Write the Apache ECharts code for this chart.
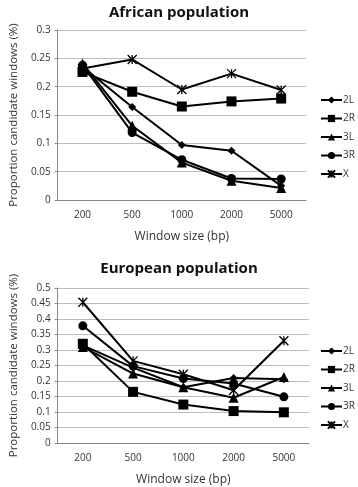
<!DOCTYPE html>
<html>
<head>
<meta charset="utf-8">
<script src="https://cdn.jsdelivr.net/npm/echarts@6/dist/echarts.min.js"></script>
<style>
  html, body { margin: 0; padding: 0; background: #fff; }
  #chart { width: 358px; height: 487px; }
</style>
</head>
<body>
<div id="chart"></div>
<script>
const windowSizes = ['200', '500', '1000', '2000', '5000'];
const seriesNames = ['2L', '2R', '3L', '3R', 'X'];

// African population
const africa2L = [0.235, 0.164, 0.097, 0.087, 0.025];
const africa2R = [0.226, 0.191, 0.165, 0.174, 0.179];
const africa3L = [0.241, 0.131, 0.066, 0.034, 0.021];
const africa3R = [0.238, 0.119, 0.071, 0.038, 0.037];
const africaX = [0.232, 0.248, 0.195, 0.223, 0.194];

// European population
const europe2L = [0.315, 0.243, 0.18, 0.21, 0.206];
const europe2R = [0.32, 0.165, 0.124, 0.103, 0.099];
const europe3L = [0.31, 0.224, 0.18, 0.146, 0.213];
const europe3R = [0.378, 0.248, 0.208, 0.192, 0.149];
const europeX = [0.454, 0.265, 0.222, 0.17, 0.33];

const FONT = '"Open Sans", "Liberation Sans", sans-serif';
const starPath = 'path://M0,0L10,10M10,0L0,10M5,0L5,10';

const markers = {
  '2L': { symbol: 'diamond', size: 8 },
  '2R': { symbol: 'rect', size: 10 },
  '3L': { symbol: 'triangle', size: 10 },
  '3R': { symbol: 'circle', size: 9 },
  'X': { symbol: starPath, size: 9 },
};

function makeSeries(name, data, idx) {
  const m = markers[name];
  const isStar = name === 'X';
  return {
    name,
    type: 'line',
    xAxisIndex: idx,
    yAxisIndex: idx,
    data,
    symbol: m.symbol,
    symbolSize: m.size,
    showAllSymbol: true,
    lineStyle: { color: '#000', width: 2 },
    itemStyle: isStar
      ? { color: 'rgba(0,0,0,0)', borderColor: '#000', borderWidth: 1.3 }
      : { color: '#000', borderColor: '#000', borderWidth: 0 },
    emphasis: { disabled: true },
    animation: false,
  };
}

function xAxisFor(idx) {
  return {
    type: 'category',
    gridIndex: idx,
    data: windowSizes,
    boundaryGap: true,
    name: 'Window size (bp)',
    nameLocation: 'middle',
    nameGap: 31,
    nameTextStyle: { fontFamily: FONT, fontSize: 12, color: '#333' },
    axisLine: { lineStyle: { color: '#888', width: 1 } },
    axisTick: { show: false },
    axisLabel: { fontFamily: FONT, fontSize: 10, color: '#333', margin: 10 },
  };
}

function yAxisFor(idx, max) {
  return {
    type: 'value',
    gridIndex: idx,
    min: 0,
    max,
    interval: 0.05,
    name: 'Proportion candidate windows (%)',
    nameLocation: 'middle',
    nameGap: 34,
    nameTextStyle: { fontFamily: FONT, fontSize: 11.5, color: '#333' },
    axisLine: { show: true, lineStyle: { color: '#888', width: 1 } },
    axisTick: { show: true, length: 3, lineStyle: { color: '#888' } },
    axisLabel: {
      fontFamily: FONT, fontSize: 10, color: '#333', margin: 7,
      formatter: (v) => String(Math.round(v * 100) / 100),
    },
    splitLine: { lineStyle: { color: '#bdbdbd', width: 1 } },
  };
}

function legendFor(top) {
  return {
    data: seriesNames,
    orient: 'vertical',
    left: 320,
    top,
    padding: 0,
    itemWidth: 21,
    itemHeight: 9,
    itemGap: 8.5,
    selectedMode: false,
    textStyle: { fontFamily: FONT, fontSize: 10, color: '#333', padding: [0, 0, 0, -4] },
  };
}

const chart = echarts.init(document.getElementById('chart'), null, { renderer: 'canvas' });
chart.setOption({
  animation: false,
  title: [
    {
      text: 'African population', left: 'center', top: 0,
      textStyle: { fontFamily: FONT, fontSize: 15, fontWeight: 'bold', color: '#111' },
    },
    {
      text: 'European population', top: 256, left: 'center',
      textStyle: { fontFamily: FONT, fontSize: 15, fontWeight: 'bold', color: '#111' },
    },
  ],
  legend: [legendFor(95), legendFor(346)],
  grid: [
    { left: 49, right: 52, top: 30, height: 170 },
    { left: 49, right: 49, top: 288, height: 159 },
  ],
  xAxis: [xAxisFor(0), xAxisFor(1)],
  yAxis: [yAxisFor(0, 0.3), yAxisFor(1, 0.5)],
  series: [
    makeSeries('2L', africa2L, 0),
    makeSeries('2R', africa2R, 0),
    makeSeries('3L', africa3L, 0),
    makeSeries('3R', africa3R, 0),
    makeSeries('X', africaX, 0),
    makeSeries('2L', europe2L, 1),
    makeSeries('2R', europe2R, 1),
    makeSeries('3L', europe3L, 1),
    makeSeries('3R', europe3R, 1),
    makeSeries('X', europeX, 1),
  ],
});
</script>
</body>
</html>
